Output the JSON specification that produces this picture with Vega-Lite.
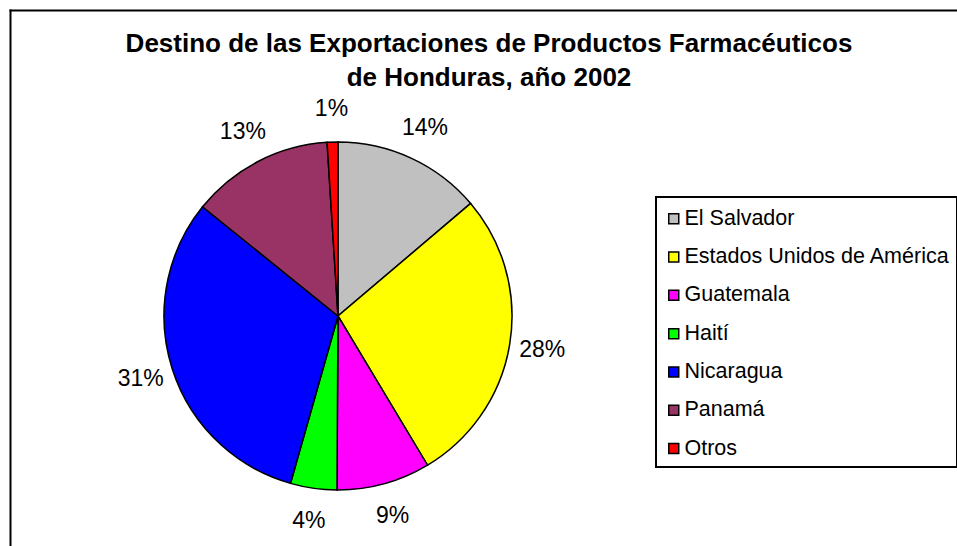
{
  "$schema": "https://vega.github.io/schema/vega-lite/v6.json",
  "autosize": {"type": "none"},
  "padding": {"left": 10, "top": 10, "right": 291, "bottom": 0},
  "width": 656,
  "height": 612,
  "background": "white",
  "config": {
    "view": {"stroke": null},
    "font": "Liberation Sans"
  },
  "title": {
    "text": ["Destino de las Exportaciones de Productos Farmacéuticos", "de Honduras, año 2002"],
    "font": "Liberation Sans",
    "fontSize": 26,
    "fontWeight": "bold",
    "color": "black",
    "anchor": "middle",
    "frame": "group",
    "baseline": "top",
    "lineHeight": 34,
    "offset": 0,
    "dx": 151,
    "dy": 81
  },
  "data": {
    "values": [
      {"idx": 1, "pais": "El Salvador", "share": 0.138},
      {"idx": 2, "pais": "Estados Unidos de América", "share": 0.276},
      {"idx": 3, "pais": "Guatemala", "share": 0.087},
      {"idx": 4, "pais": "Haití", "share": 0.043},
      {"idx": 5, "pais": "Nicaragua", "share": 0.314},
      {"idx": 6, "pais": "Panamá", "share": 0.132},
      {"idx": 7, "pais": "Otros", "share": 0.010}
    ]
  },
  "layer": [
    {
      "mark": {"type": "point", "opacity": 0},
      "encoding": {
        "x": {
          "datum": 0,
          "type": "quantitative",
          "scale": {"domain": [0, 1], "range": [0, 947]},
          "axis": {"orient": "top", "domain": true, "domainColor": "black", "domainWidth": 2, "domainCap": "square", "ticks": false, "labels": false, "grid": false, "title": null}
        },
        "y": {
          "datum": 0,
          "type": "quantitative",
          "scale": {"domain": [0, 1]},
          "axis": {"orient": "left", "domain": true, "domainColor": "black", "domainWidth": 2, "domainCap": "square", "ticks": false, "labels": false, "grid": false, "title": null}
        }
      }
    },
    {
      "mark": {"type": "arc", "outerRadius": 174, "stroke": "black", "strokeWidth": 1.5},
      "encoding": {
        "theta": {"field": "share", "type": "quantitative", "stack": true},
        "order": {"field": "idx", "type": "quantitative"},
        "color": {
          "field": "pais",
          "type": "nominal",
          "sort": null,
          "scale": {
            "domain": ["El Salvador", "Estados Unidos de América", "Guatemala", "Haití", "Nicaragua", "Panamá", "Otros"],
            "range": ["#C0C0C0", "#FFFF00", "#FF00FF", "#00FF00", "#0000FF", "#993366", "#FF0000"]
          },
          "legend": {
            "title": " ",
            "titleFontSize": 2,
            "titlePadding": 2,
            "orient": "none",
            "legendX": 646,
            "legendY": 187,
            "strokeColor": "black",
            "fillColor": "white",
            "padding": 7,
            "symbolType": "square",
            "symbolSize": 100,
            "symbolStrokeColor": "black",
            "symbolStrokeWidth": 1.5,
            "symbolOpacity": 1,
            "labelFont": "Liberation Sans",
            "labelFontSize": 21.5,
            "labelColor": "black",
            "labelLimit": 0,
            "labelOffset": 0,
            "rowPadding": 15.3,
            "encode": {"legend": {"update": {"strokeWidth": {"value": 2}}}}
          }
        }
      }
    },
    {
      "mark": {"type": "text", "radius": 207, "font": "Liberation Sans", "fontSize": 23, "fill": "black", "align": "center", "baseline": "middle"},
      "encoding": {
        "theta": {"field": "share", "type": "quantitative", "stack": true},
        "order": {"field": "idx", "type": "quantitative"},
        "text": {"field": "share", "type": "quantitative", "format": ".0%"}
      }
    }
  ]
}
